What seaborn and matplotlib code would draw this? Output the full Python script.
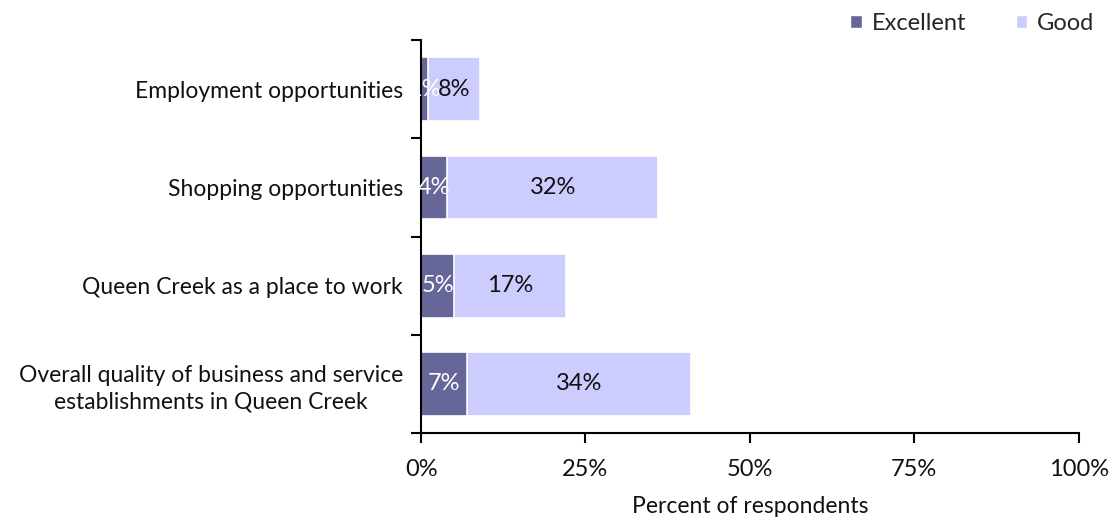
import matplotlib
matplotlib.use("Agg")
import matplotlib.pyplot as plt
import seaborn as sns
import pandas as pd
from matplotlib.ticker import FixedLocator, PercentFormatter
from matplotlib.patches import Patch

categories = [
    "Employment opportunities",
    "Shopping opportunities",
    "Queen Creek as a place to work",
    "Overall quality of business and service\nestablishments in Queen Creek",
]
excellent = [1, 4, 5, 7]
good = [8, 32, 17, 34]

color_excellent = "#666699"
color_good = "#ccccff"

sns.set_theme(style="white")
plt.rcParams["font.family"] = ["Lato", "DejaVu Sans"]

df = pd.DataFrame({"category": categories, "excellent": excellent, "good": good})
df["total"] = df["excellent"] + df["good"]

fig = plt.figure(figsize=(11.11, 5.21), dpi=100)
ax = fig.add_axes([0.379, 0.169, 0.592, 0.754])

# stacked bars: full total in the lighter colour, then the Excellent part over it
sns.barplot(data=df, x="total", y="category", color=color_good, width=0.65,
            edgecolor="white", linewidth=1.2, saturation=1, ax=ax, orient="h")
sns.barplot(data=df, x="excellent", y="category", color=color_excellent, width=0.65,
            edgecolor="white", linewidth=1.2, saturation=1, ax=ax, orient="h")

for i, (e, g) in enumerate(zip(excellent, good)):
    ax.text(e / 2, i, f"{e}%", ha="center", va="center", color="white", fontsize=17)
    ax.text(e + g / 2, i, f"{g}%", ha="center", va="center", color="#111111", fontsize=17)

ax.set_xlim(0, 100)
ax.set_ylim(3.5, -0.5)
ax.xaxis.set_major_locator(FixedLocator([0, 25, 50, 75, 100]))
ax.xaxis.set_major_formatter(PercentFormatter(decimals=0))
ax.set_xlabel("Percent of respondents", fontsize=16.5, labelpad=11, color="#111111")
ax.set_ylabel("")

ax.yaxis.set_minor_locator(FixedLocator([-0.5, 0.5, 1.5, 2.5, 3.5]))
ax.tick_params(axis="y", which="major", length=0, pad=13, labelsize=16.5, labelcolor="#111111")
ax.tick_params(axis="y", which="minor", length=7, width=1.5, color="black", direction="out", left=True)
ax.tick_params(axis="x", which="major", length=7, width=1.5, color="black", direction="out",
               bottom=True, labelsize=17, pad=12, labelcolor="#111111")
for lbl in ax.get_yticklabels():
    lbl.set_multialignment("center")
    lbl.set_linespacing(1.35)

for side in ["top", "right"]:
    ax.spines[side].set_visible(False)
for side in ["left", "bottom"]:
    ax.spines[side].set_color("black")
    ax.spines[side].set_linewidth(1.5)

handles = [Patch(facecolor=color_excellent, label="Excellent"),
           Patch(facecolor=color_good, label="Good")]
fig.legend(handles=handles, loc="upper right", bbox_to_anchor=(1.004, 1.016), ncol=2,
           frameon=False, fontsize=17, handlelength=0.5, handleheight=0.5,
           handletextpad=0.4, columnspacing=2.1)

fig.savefig("out.png", dpi=100)
